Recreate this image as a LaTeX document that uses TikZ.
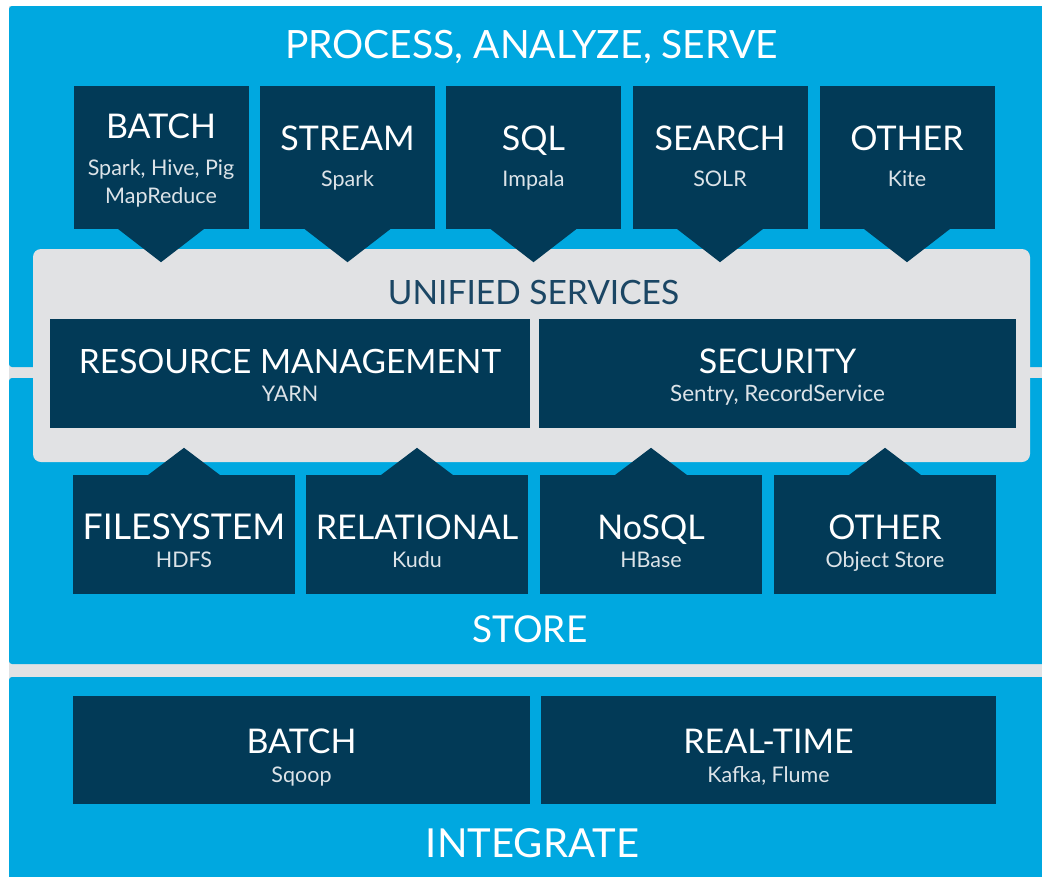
\documentclass[tikz,border=0pt]{standalone}
\usepackage{fontspec}
\setmainfont{Lato}
\usetikzlibrary{positioning}
\definecolor{cloudblue}{HTML}{00A8E0}
\definecolor{navy}{HTML}{023A57}
\definecolor{panelgray}{HTML}{E1E2E4}
\definecolor{subwhite}{HTML}{DCE3E8}
\definecolor{unitext}{HTML}{1B4664}

\begin{document}
\begin{tikzpicture}[x=1pt,y=-1pt,
  tile/.style={fill=navy,inner sep=0pt,minimum width=175pt,minimum height=143pt},
  storetile/.style={fill=navy,inner sep=0pt,minimum width=222pt,minimum height=119pt},
  widetile/.style={fill=navy,inner sep=0pt,minimum width=#1,minimum height=109pt},
  title/.style={text=white,anchor=base,inner sep=0pt,font=\fontsize{34}{37}\selectfont},
  sub/.style={text=subwhite,anchor=base,inner sep=0pt,font=\fontsize{21.5}{24}\selectfont},
  banner/.style={text=white,anchor=base,inner sep=0pt,font=\fontsize{#1}{44}\selectfont}]
\useasboundingbox (0,0) rectangle (1042,876);
\clip (0,0) rectangle (1042,876);
\fill[white] (0,0) rectangle (1042,876);
\fill[panelgray] (9,6) rectangle (1042,876);
\fill[cloudblue,rounded corners=3pt] (9,6) rectangle (1052,367);
\fill[cloudblue,rounded corners=3pt] (9,378) rectangle (1052,664);
\fill[cloudblue,rounded corners=3pt] (9,677) rectangle (1052,890);
\node[banner=39] (pas) at (531.5,58) {PROCESS, ANALYZE, SERVE};
\node[fill=panelgray,rounded corners=8pt,inner sep=0pt,minimum width=997pt,minimum height=213pt] (unified) at (531.5,355.5) {};
\node[text=unitext,anchor=base,inner sep=0pt,font=\fontsize{33.5}{36}\selectfont] (unit) at (533.5,304) {UNIFIED SERVICES};
\node[tile] (batchp) at (161,157.5) {};
\node[tile] (streamp) at (347.5,157.5) {};
\node[tile] (sqlp) at (533.5,157.5) {};
\node[tile] (searchp) at (720,157.5) {};
\node[tile] (otherp) at (907,157.5) {};
\foreach \t in {batchp,streamp,sqlp,searchp,otherp}
  \fill[navy] ([xshift=-44pt,yshift=1pt]\t.south) -- ([xshift=44pt,yshift=1pt]\t.south) -- ([yshift=-33pt]\t.south) -- cycle;
\node[title] (batchpt) at (161,138) {BATCH};
\node[sub] (batchps) at (161,175) {Spark, Hive, Pig};
\node[sub] (batchpm) at (161,203) {MapReduce};
\node[title] (streampt) at (347.5,150) {STREAM};
\node[sub] (streamps) at (347.5,186) {Spark};
\node[title] (sqlpt) at (533.5,150) {SQL};
\node[sub] (sqlps) at (533.5,186) {Impala};
\node[title] (searchpt) at (720,150) {SEARCH};
\node[sub] (searchps) at (720,186) {SOLR};
\node[title] (otherpt) at (907,150) {OTHER};
\node[sub] (otherps) at (907,186) {Kite};
\node[widetile=480pt] (resmgmt) at (290,373.5) {};
\node[widetile=477pt] (security) at (777.5,373.5) {};
\node[title,font=\fontsize{33.5}{37}\selectfont] (resmgmtt) at (290,373) {RESOURCE MANAGEMENT};
\node[sub] (resmgmts) at (290,401) {YARN};
\node[title] (securityt) at (777.5,373) {SECURITY};
\node[sub,font=\fontsize{22.5}{24}\selectfont] (securitys) at (777.5,401) {Sentry, RecordService};
\node[storetile] (fsys) at (184,534.5) {};
\node[storetile] (relational) at (417,534.5) {};
\node[storetile] (nosql) at (651,534.5) {};
\node[storetile] (others) at (885,534.5) {};
\foreach \t in {fsys,relational,nosql,others}
  \fill[navy] ([xshift=-37pt,yshift=-1pt]\t.north) -- ([xshift=37pt,yshift=-1pt]\t.north) -- ([yshift=27pt]\t.north) -- cycle;
\node[title,font=\fontsize{35.5}{37}\selectfont] (fsyst) at (184,539) {FILESYSTEM};
\node[sub] (fsyss) at (184,567) {HDFS};
\node[title] (relationalt) at (417,539) {RELATIONAL};
\node[sub] (relationals) at (417,567) {Kudu};
\node[title] (nosqlt) at (651,539) {NoSQL};
\node[sub] (nosqls) at (651,567) {HBase};
\node[title] (otherst) at (885,539) {OTHER};
\node[sub] (otherss) at (885,567) {Object Store};
\node[banner=37] (store) at (530,642) {STORE};
\node[fill=navy,inner sep=0pt,minimum width=457pt,minimum height=108pt] (batchi) at (301.5,750) {};
\node[fill=navy,inner sep=0pt,minimum width=455pt,minimum height=108pt] (realtime) at (768.5,750) {};
\node[title] (batchit) at (301.5,753) {BATCH};
\node[sub] (batchis) at (301.5,782) {Sqoop};
\node[title] (realtimet) at (768.5,753) {REAL-TIME};
\node[sub] (realtimes) at (768.5,782) {Kafka, Flume};
\node[banner=40] (integrate) at (532.5,857) {INTEGRATE};
\end{tikzpicture}
\end{document}
